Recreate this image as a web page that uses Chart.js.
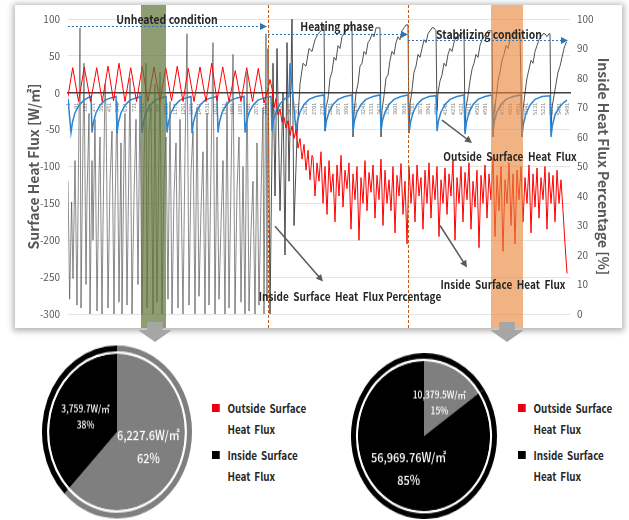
<!DOCTYPE html>
<html>
<head>
<meta charset="utf-8">
<script src="https://cdn.jsdelivr.net/npm/chart.js@4.4.1/dist/chart.umd.min.js"></script>
<style>
body{margin:0;width:629px;height:520px;background:#fff;position:relative;overflow:hidden;font-family:"Noto Sans CJK KR","Noto Sans",sans-serif}
#frame{position:absolute;left:15px;top:5px;width:607px;height:323px;background:#fff;box-shadow:0 1px 6px 2px rgba(0,0,0,0.3)}
.pointer{position:absolute;width:34px;height:20px;background:#a6a6a6;clip-path:polygon(27% 0,73% 0,73% 40%,100% 40%,50% 100%,0 40%,27% 40%)}
.pie{position:absolute;transform-origin:50% 50%}
.legend{position:absolute;color:#262626;font-size:11.5px;font-weight:700;word-spacing:2px;transform:scaleX(0.86);transform-origin:0 0;white-space:nowrap}
.legend .item{position:relative;padding-left:18px;line-height:21px;margin-bottom:5px}
.legend .sw{position:absolute;left:0;top:6px;width:9px;height:8px}
</style>
</head>
<body>
<div id="frame"><canvas id="main" width="607" height="323"></canvas></div>
<div class="pointer" style="left:138px;top:322px"></div>
<div class="pointer" style="left:490px;top:322px"></div>

<div class="pie" style="left:42px;top:357px;width:150px;height:150px;transform:scaleY(1.153)"><canvas id="pieLeft" width="150" height="150"></canvas></div>
<div class="pie" style="left:351px;top:363px;width:146px;height:146px;transform:scaleY(1.137)"><canvas id="pieRight" width="146" height="146"></canvas></div>

<div class="legend" id="legLeft" style="left:212px;top:398px"></div>
<div class="legend" id="legRight" style="left:518px;top:398px"></div>

<script>
const FONT = '"Noto Sans CJK KR", "Noto Sans", sans-serif';
Chart.defaults.font.family = FONT;

// x-axis tick labels (sample index)
const xTickLabels = [1,91,181,271,361,451,541,631,721,811,901,991,1081,1171,1261,1351,1441,1531,1621,1711,
  1801,1891,1981,2071,2161,2251,2341,2431,2521,2611,2701,2791,2881,2971,3061,3151,3241,3331,3421,3511,
  3601,3691,3781,3871,3961,4051,4141,4231,4321,4411,4501,4591,4681,4771,4861,4951,5041,5131,5221,5311,5401,5491];

const seriesNames = ['Outside Surface Heat Flux', 'Inside Surface Heat Flux', 'Inside Surface Heat Flux Percentage'];

// outside surface heat flux [W/m2]  (index, value)
const outsideFlux = [
  [0,-5],[52,34],[116,-12],[179,35],[248,-12],[316,34],[377,-12],[440,36],[501,-11],[561,40],[627,-12],[690,34],
  [754,-12],[817,36],[880,-12],[946,35],[1012,-12],[1075,34],[1139,-11],[1202,36],[1265,-12],[1323,33],[1386,-12],
  [1452,35],[1518,-12],[1581,40],[1639,-11],[1702,35],[1771,-12],[1840,30],[1903,-12],[1966,34],[2030,-12],[2093,33],
  [2156,-14],[2200,5],[2222,18],[2244,6],[2266,-20],[2288,-8],[2310,-30],[2332,-22],[2354,-40],[2376,-33],[2398,-48],
  [2420,-38],[2442,-58],[2464,-45],[2486,-62],[2508,-50],[2530,-75],[2552,-62],[2574,-90],[2596,-70],[2618,-105],
  [2640,-78],[2662,-118],[2684,-85],
  [2695,-88],[2717,-140],[2739,-95],[2761,-120],[2783,-80],[2805,-150],[2827,-100],[2849,-165],[2871,-92],[2893,-135],
  [2915,-110],[2937,-175],[2959,-98],[2981,-140],[3003,-85],[3025,-155],[3047,-105],[3069,-130],[3091,-95],[3113,-185],
  [3135,-110],[3157,-145],[3179,-100],[3201,-200],[3223,-115],[3245,-150],[3267,-92],[3289,-160],[3311,-108],[3333,-135],
  [3355,-98],[3377,-170],[3399,-112],[3421,-145],[3443,-90],[3465,-180],[3487,-105],[3509,-150],[3531,-118],[3553,-160],
  [3575,-100],[3597,-190],[3619,-112],[3641,-140],[3663,-96],[3685,-165],[3707,-120],[3729,-205],[3751,-100],[3773,-150],
  [3795,-110],[3817,-175],[3839,-98],[3861,-140],[3883,-115],[3905,-185],[3927,-105],[3949,-150],[3971,-95],[3993,-170],
  [4015,-112],[4037,-145],[4059,-100],[4081,-195],[4103,-118],[4125,-150],[4147,-102],[4169,-165],[4191,-110],[4213,-140],
  [4235,-92],[4257,-200],[4279,-115],[4301,-150],[4323,-100],[4345,-175],[4367,-108],[4389,-145],[4411,-95],[4433,-185],
  [4455,-120],[4477,-155],[4499,-105],[4521,-210],[4543,-112],[4565,-150],[4587,-98],[4609,-170],[4631,-110],[4653,-145],
  [4675,-88],[4697,-195],[4719,-112],[4741,-160],[4763,-100],[4785,-215],[4807,-118],[4829,-150],[4851,-95],[4873,-180],
  [4895,-110],[4917,-205],[4939,-105],[4961,-145],[4983,-100],[5005,-175],[5027,-115],[5049,-150],[5071,-98],[5093,-190],
  [5115,-110],[5137,-155],[5159,-102],[5181,-170],[5203,-115],[5225,-145],[5247,-100],[5269,-185],[5291,-108],[5313,-150],
  [5335,-112],[5357,-175],[5379,-105],[5401,-150],[5423,-118],[5445,-160],[5467,-205],[5489,-245]
];

// inside surface heat flux [W/m2]
const insideFlux = [
  [0,-8],[33,-54],[49,-40],[77,-27],[121,-17],[176,-10],[231,-6],[253,-5],[264,-54],[280,-40],[308,-27],[352,-17],
  [407,-10],[473,-7],[528,-5],[539,-55],[555,-40],[583,-27],[627,-17],[682,-10],[748,-7],[803,-5],[814,-54],[830,-40],
  [858,-27],[902,-17],[957,-10],[1023,-7],[1078,-5],[1089,-54],[1105,-40],[1133,-27],[1177,-17],[1232,-10],[1298,-7],
  [1353,-5],[1364,-55],[1380,-40],[1408,-27],[1452,-17],[1507,-10],[1573,-7],[1639,-5],[1650,-54],[1666,-40],[1694,-27],
  [1738,-17],[1793,-10],[1859,-7],[1936,-5],[1947,-54],[1963,-40],[1991,-27],[2035,-17],[2090,-10],[2156,-7],[2233,-5],
  [2244,-52],[2260,-38],[2288,-26],[2332,-15],[2387,-8],[2431,-5],[2442,40],[2508,-51],[2524,-38],[2552,-26],[2596,-16],
  [2651,-9],[2728,-5],[2816,-3],[2827,-52],[2843,-38],[2871,-26],[2915,-16],[2970,-9],[3047,-5],[3124,-3],[3135,-53],
  [3151,-38],[3179,-26],[3223,-16],[3278,-9],[3355,-5],[3432,-3],[3443,-52],[3459,-38],[3487,-26],[3531,-16],[3586,-9],
  [3663,-5],[3740,-3],[3751,-55],[3767,-40],[3795,-27],[3839,-16],[3894,-9],[3971,-5],[4048,-4],[4059,-52],[4075,-38],
  [4103,-26],[4147,-16],[4202,-9],[4279,-5],[4356,-3],[4367,-56],[4383,-40],[4411,-27],[4455,-16],[4510,-9],[4587,-5],
  [4664,-3],[4675,-52],[4691,-38],[4719,-26],[4763,-16],[4818,-9],[4895,-5],[4983,-3],[4994,-58],[5010,-42],[5038,-28],
  [5082,-17],[5137,-9],[5214,-5],[5302,-4],[5313,-60],[5329,-44],[5357,-30],[5401,-20],[5456,-13],[5489,-10]
];

// inside heat flux percentage [%]
const insidePercent = [
  [0,45],[18,5],[40,38],[55,12],[77,52],[99,3],[132,97],[143,2],[165,60],[176,85],[198,10],[209,40],[231,68],[242,0],
  [264,52],[275,25],[297,66],[319,1],[341,48],[352,60],[374,0],[385,30],[407,78],[418,70],[440,2],[462,45],[484,62],
  [506,0],[517,35],[539,72],[561,4],[583,58],[594,0],[616,55],[627,68],[649,3],[682,80],[704,0],[726,40],[748,66],
  [770,10],[792,75],[814,0],[836,50],[858,85],[869,2],[891,62],[913,70],[935,0],[957,78],[979,4],[990,30],[1012,82],
  [1034,0],[1056,45],[1078,60],[1100,5],[1122,72],[1144,0],[1166,40],[1188,58],[1210,2],[1232,66],[1265,0],[1287,55],
  [1309,95],[1331,3],[1353,48],[1375,62],[1397,0],[1419,70],[1441,6],[1463,35],[1485,55],[1507,0],[1529,68],[1551,3],
  [1573,50],[1595,92],[1617,0],[1639,60],[1661,5],[1683,30],[1705,52],[1727,0],[1749,72],[1771,2],[1793,45],[1815,88],
  [1837,0],[1859,42],[1881,60],[1903,4],[1925,50],[1947,0],[1969,82],[1991,1],[2013,28],[2035,45],[2057,0],[2079,58],
  [2101,3],[2123,40],[2145,70],[2156,0],[2178,95],[2189,5],[2200,90],
  [2222,0],[2255,85],[2277,40],[2299,90],[2332,35],[2365,75],[2387,20],[2409,92],[2431,45],[2464,100],[2486,30],
  [2519,60],[2552,78],[2585,85],[2618,84],[2651,90],[2684,89],[2717,93],[2750,95],[2783,96],[2816,98],
  [2827,62],[2838,70],[2860,73],[2882,80],[2904,82],[2926,87],[2948,86],[2970,91],[2992,90],[3014,94],[3036,95],[3058,96],[3080,97],[3102,98],[3124,98],
  [3135,60],[3146,68],[3168,75],[3190,78],[3212,84],[3234,85],[3256,89],[3278,88],[3300,92],[3322,93],[3344,95],[3366,94],[3388,97],[3410,97],[3432,97],
  [3443,60],[3454,69],[3476,74],[3498,80],[3520,81],[3542,86],[3564,89],[3586,88],[3608,92],[3630,94],[3652,93],[3674,96],[3696,97],[3718,98],[3740,98],
  [3751,62],[3762,71],[3784,76],[3806,82],[3828,84],[3850,88],[3872,87],[3894,90],[3916,93],[3938,92],[3960,95],[3982,96],[4004,97],[4026,97],[4048,96],
  [4059,69],[4070,75],[4092,79],[4114,81],[4136,85],[4158,84],[4180,88],[4202,90],[4224,89],[4246,92],[4268,94],[4290,93],[4312,95],[4334,95],[4356,96],
  [4367,62],[4378,70],[4400,74],[4422,79],[4444,83],[4466,85],[4488,88],[4510,87],[4532,91],[4554,93],[4576,94],[4598,95],[4620,96],[4642,96],[4664,96],
  [4675,60],[4686,68],[4708,73],[4730,79],[4752,82],[4774,86],[4796,88],[4818,91],[4840,90],[4862,93],[4884,95],[4906,96],[4928,96],[4950,95],[4972,95],
  [4994,60],[5005,69],[5027,75],[5049,80],[5071,83],[5093,86],[5115,85],[5137,89],[5159,91],[5181,93],[5203,94],[5225,95],[5247,95],[5269,94],[5291,95],[5302,95],
  [5313,62],[5324,70],[5346,74],[5368,78],[5390,82],[5412,84],[5434,87],[5456,90],[5478,92],[5489,92]
];

// phases of the test
const phaseNames = ['Unheated condition', 'Heating phase', 'Stabilizing condition'];
const phaseStart = [0, 2200, 3740];
const phaseEnd = [2189, 3740, 5500];

// heat flux totals for the two highlighted periods [W/m2]: outside, inside
const pieLabels = ['Outside Surface Heat Flux', 'Inside Surface Heat Flux'];
const unheatedTotals = [6227.6, 3759.7];
const stabilizedTotals = [10379.5, 56969.76];

// ---- annotation layout (index / left-axis units) ----
const bands = [
  {from: 803, to: 1078, color: 'rgba(95,115,55,0.7)'},
  {from: 4653, to: 5005, color: 'rgba(232,132,55,0.62)'}
];
const phaseArrowLevel = [91, 80, 71];
const phaseTextPos = [[1089, 100], [2959, 90.5], [4631, 78.5]];
const notes = [
  {text: 'Outside  Surface  Heat  Flux', x: 4862, y: -87, from: [4114, -37], to: [4444, -68]},
  {text: 'Inside  Surface  Heat  Flux', x: 4785, y: -260, from: [4092, -180], to: [4389, -237]},
  {text: 'Inside  Surface  Heat  Flux Percentage', x: 3102, y: -276, from: [2277, -181], to: [2805, -256]}
];

function drawArrow(ctx, x0, y0, x1, y1, head, dash) {
  const a = Math.atan2(y1 - y0, x1 - x0);
  ctx.setLineDash(dash);
  ctx.beginPath();
  ctx.moveTo(x0, y0);
  ctx.lineTo(x1 - Math.cos(a) * head * 0.8, y1 - Math.sin(a) * head * 0.8);
  ctx.stroke();
  ctx.setLineDash([]);
  ctx.beginPath();
  ctx.moveTo(x1, y1);
  ctx.lineTo(x1 - head * Math.cos(a) + head * 0.5 * Math.sin(a), y1 - head * Math.sin(a) - head * 0.5 * Math.cos(a));
  ctx.lineTo(x1 - head * Math.cos(a) - head * 0.5 * Math.sin(a), y1 - head * Math.sin(a) + head * 0.5 * Math.cos(a));
  ctx.closePath();
  ctx.fill();
}

// the source figure is squeezed horizontally, so is its lettering
function narrowText(ctx, text, x, y) {
  ctx.save();
  ctx.translate(x, y);
  ctx.scale(0.87, 1);
  ctx.fillText(text, 0, 0);
  ctx.restore();
}

const overlay = {
  id: 'overlay',
  afterDatasetsDraw(chart) {
    const ctx = chart.ctx, x = chart.scales.x, y = chart.scales.y, H = chart.height;
    ctx.save();
    bands.forEach(b => {
      const x0 = x.getPixelForValue(b.from), x1 = x.getPixelForValue(b.to);
      ctx.fillStyle = b.color;
      ctx.fillRect(x0, 0, x1 - x0, H);
    });
    // phase boundaries
    ctx.strokeStyle = '#c55a11';
    ctx.lineWidth = 1;
    ctx.setLineDash([3, 2]);
    phaseStart.slice(1).forEach(v => {
      const px = Math.round(x.getPixelForValue(v)) + 0.5;
      ctx.beginPath(); ctx.moveTo(px, 0); ctx.lineTo(px, H); ctx.stroke();
    });
    // phase arrows
    ctx.strokeStyle = '#2e75b6';
    ctx.fillStyle = '#2e75b6';
    phaseNames.forEach((name, i) => {
      const py = Math.round(y.getPixelForValue(phaseArrowLevel[i])) + 0.5;
      drawArrow(ctx, x.getPixelForValue(phaseStart[i]), py, x.getPixelForValue(phaseEnd[i]), py, 7, [2, 2]);
    });
    ctx.fillStyle = '#262626';
    ctx.font = '700 12px ' + FONT;
    ctx.textAlign = 'center';
    ctx.textBaseline = 'middle';
    phaseNames.forEach((name, i) => {
      narrowText(ctx, name, x.getPixelForValue(phaseTextPos[i][0]), y.getPixelForValue(phaseTextPos[i][1]));
    });
    // callouts
    ctx.strokeStyle = '#595959';
    ctx.fillStyle = '#595959';
    ctx.lineWidth = 1.5;
    notes.forEach(n => {
      drawArrow(ctx, x.getPixelForValue(n.from[0]), y.getPixelForValue(n.from[1]),
        x.getPixelForValue(n.to[0]), y.getPixelForValue(n.to[1]), 7, []);
    });
    ctx.fillStyle = '#262626';
    ctx.font = '700 11.5px ' + FONT;
    notes.forEach(n => {
      narrowText(ctx, n.text, x.getPixelForValue(n.x), y.getPixelForValue(n.y));
    });
    ctx.restore();
  }
};

const toXY = arr => arr.map(p => ({x: p[0], y: p[1]}));

new Chart(document.getElementById('main'), {
  type: 'line',
  data: {
    datasets: [
      {label: seriesNames[0], data: toXY(outsideFlux), borderColor: '#ff0000', borderWidth: 1, yAxisID: 'y', order: 0},
      {label: seriesNames[1], data: toXY(insideFlux), borderColor: '#2f85d0', borderWidth: 1.5, yAxisID: 'y', order: 1},
      {label: seriesNames[2], data: toXY(insidePercent), borderWidth: 1, yAxisID: 'y2', order: 2,
        borderColor: 'rgba(50,50,50,0.85)',
        // thinner-looking grey trace before heating starts
        segment: {borderColor: c => c.p1.parsed.x <= phaseStart[1] ? 'rgba(70,70,70,0.62)' : undefined}}
    ]
  },
  options: {
    responsive: false,
    animation: false,
    events: [],
    elements: {point: {radius: 0}, line: {tension: 0}},
    layout: {padding: {top: 12, bottom: 11, left: 0, right: 0}},
    plugins: {legend: {display: false}, tooltip: {enabled: false}},
    scales: {
      x: {
        type: 'linear', min: 0, max: 5522,
        position: {y: 0},
        afterBuildTicks: s => { s.ticks = xTickLabels.map(v => ({value: v})); },
        grid: {display: false},
        border: {color: '#404040', width: 1.5},
        ticks: {autoSkip: false, minRotation: 90, maxRotation: 90, padding: 2, color: '#808080',
          font: {size: 5.5}, callback: v => String(v)}
      },
      y: {
        position: 'left', min: -300, max: 100,
        afterFit: s => { s.width = 53; },
        grid: {color: '#e4e4e4', drawTicks: false},
        border: {display: false},
        ticks: {stepSize: 50, padding: 8, color: '#595959', font: {size: 10}},
        title: {display: true, text: 'Surface Heat Flux [W/㎡]', color: '#595959',
          font: {size: 14, weight: 'bold'}, padding: {top: 10, bottom: 0}}
      },
      y2: {
        position: 'right', min: 0, max: 100,
        afterFit: s => { s.width = 52; },
        grid: {display: false, drawTicks: false},
        border: {display: false},
        ticks: {stepSize: 10, padding: 7, color: '#595959', font: {size: 10}},
        title: {display: true, text: 'Inside Heat Flux Percentage [%]', color: '#595959',
          font: {size: 14, weight: 'bold'}, padding: {top: 10, bottom: 0}}
      }
    }
  },
  plugins: [overlay]
});

// ---- pies ----
const sliceLabels = {
  id: 'sliceLabels',
  afterDatasetsDraw(chart) {
    const ctx = chart.ctx;
    const ds = chart.data.datasets[2];
    const total = ds.data.reduce((a, b) => a + b, 0);
    chart.getDatasetMeta(2).data.forEach((arc, i) => {
      const v = ds.data[i];
      const pct = Math.round(v / total * 100);
      const big = pct > 50;
      const c = arc.getCenterPoint();
      const gap = big ? 10 : 7;
      ctx.save();
      ctx.fillStyle = '#ffffff';
      ctx.textAlign = 'center';
      ctx.textBaseline = 'middle';
      ctx.font = (big ? '500 11px ' : '500 8.5px ') + FONT;
      ctx.fillText(v.toLocaleString('en-US', {maximumFractionDigits: 2}) + 'W/㎡', c.x, c.y - gap);
      ctx.fillText(pct + '%', c.x, c.y + gap);
      ctx.restore();
    });
  }
};

function makePie(id, values, ringColors) {
  new Chart(document.getElementById(id), {
    type: 'doughnut',
    data: {
      labels: pieLabels,
      datasets: [
        {data: values, backgroundColor: ringColors, borderWidth: 0, weight: 5},
        {data: [1], backgroundColor: ['#ffffff'], borderWidth: 0, weight: 2},
        {data: values, backgroundColor: ['#7f7f7f', '#000000'], borderWidth: 0, weight: 67}
      ]
    },
    options: {
      responsive: false,
      animation: false,
      events: [],
      cutout: 0,
      plugins: {legend: {display: false}, tooltip: {enabled: false}}
    },
    plugins: [sliceLabels]
  });
}

makePie('pieLeft', unheatedTotals, ['#7f7f7f', '#000000']);
makePie('pieRight', stabilizedTotals, ['#000000', '#000000']);

// legends beside the pies
const legendColors = ['#e60012', '#000000'];
['legLeft', 'legRight'].forEach(id => {
  const el = document.getElementById(id);
  pieLabels.forEach((lab, i) => {
    const words = lab.split(' ');
    const item = document.createElement('div');
    item.className = 'item';
    item.innerHTML = '<span class="sw" style="background:' + legendColors[i] + '"></span>' +
      words.slice(0, 2).join(' ') + '<br>' + words.slice(2).join(' ');
    el.appendChild(item);
  });
});
</script>
</body>
</html>
